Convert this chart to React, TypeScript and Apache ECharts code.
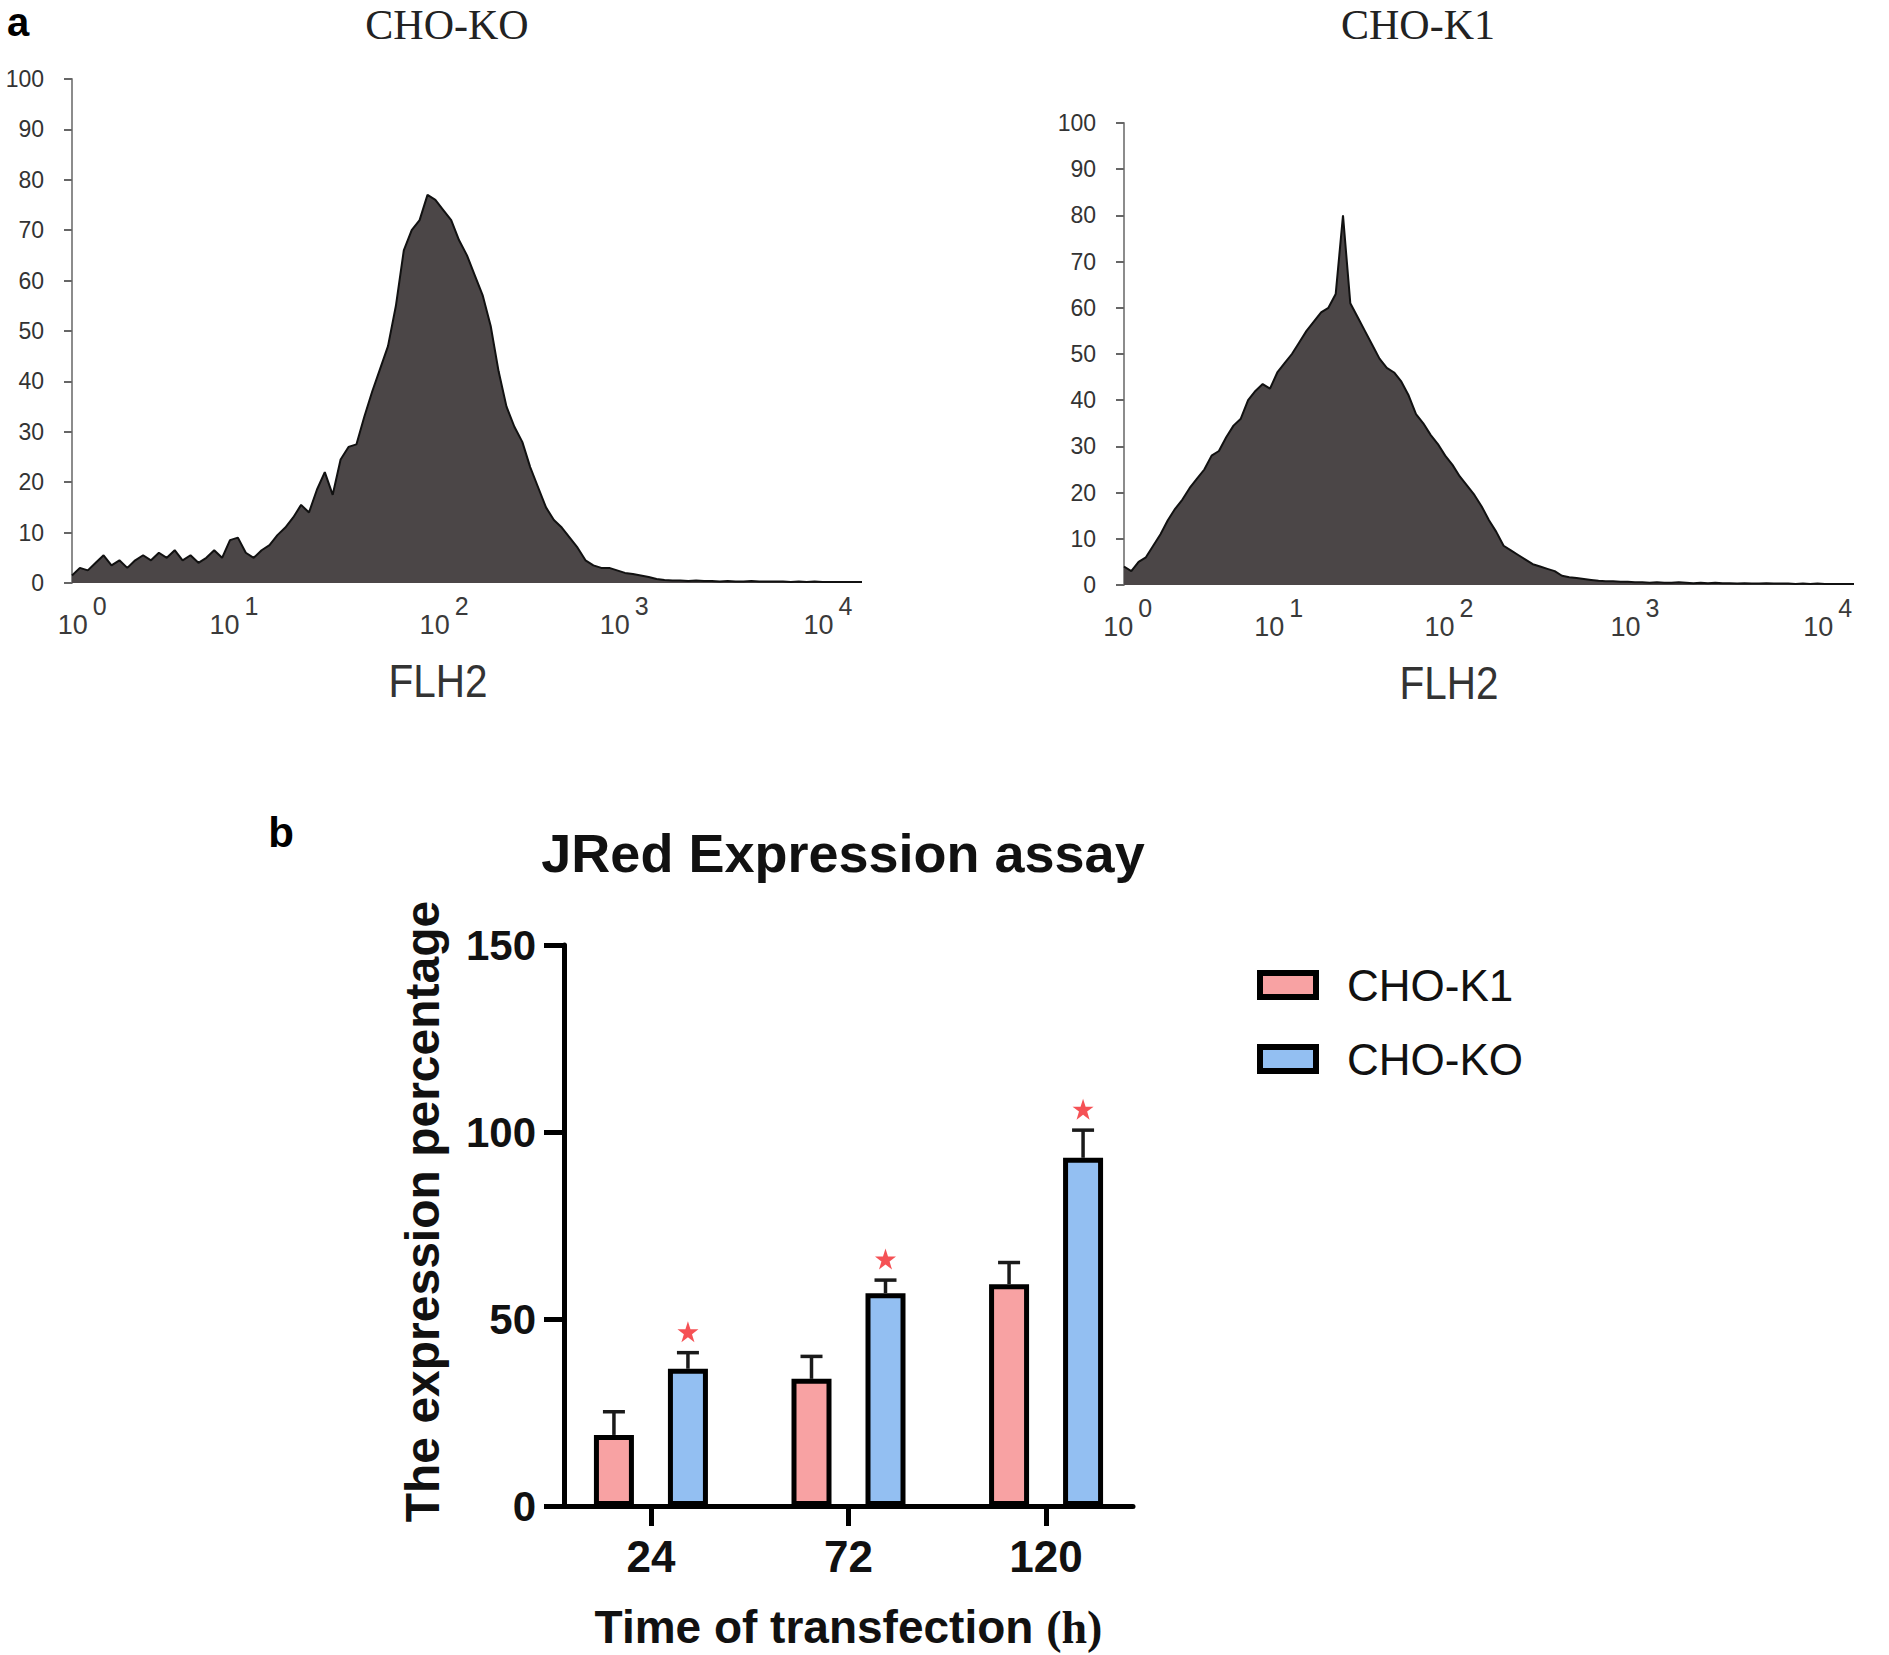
import React, { useEffect, useRef } from "react";
import * as echarts from "echarts";

// ---------- Panel a : flow-cytometry histograms (channel 0..1000, step 10) ----------
const BIN_STEP = 10;
const koCounts = [
  1.5, 3, 2.5, 4, 5.5, 3.5, 4.5, 3, 4.5, 5.5,
  4.5, 6, 5, 6.5, 4.5, 5.5, 4, 5, 6.5, 5,
  8.5, 9, 6, 5, 6.5, 7.5, 9.5, 11, 13, 15.5,
  14, 18.5, 22, 17.5, 24.5, 27, 27.5, 33, 38, 42.5,
  47, 55, 66, 70, 72, 77, 76, 74, 72, 68,
  65, 61, 57, 51, 42, 35, 31, 28, 23, 19,
  15, 12.5, 11, 9, 7, 4.5, 3.5, 3, 3, 2.5,
  2, 1.8, 1.5, 1.2, 0.8, 0.6, 0.5, 0.5, 0.4, 0.5,
  0.4, 0.4, 0.3, 0.4, 0.3, 0.3, 0.4, 0.3, 0.3, 0.3,
  0.3, 0.2, 0.3, 0.2, 0.3, 0.2, 0.2, 0.2, 0.2, 0.2, 0.2,
];
const k1Counts = [
  4, 3, 5, 6, 8.5, 11, 14, 16.5, 18.5, 21,
  23, 25, 28, 29, 32, 34.5, 36, 40, 42, 43.5,
  42.5, 46, 48, 50, 52.5, 55, 57, 59, 60, 63,
  80, 61, 58, 55, 52, 49, 47, 46, 44, 41,
  37, 35, 32.5, 30.5, 28, 26, 23.5, 21.5, 19.5, 17,
  14, 11.5, 8.5, 7.5, 6.5, 5.5, 4.5, 4, 3.5, 3,
  2, 1.7, 1.5, 1.3, 1.1, 0.9, 0.8, 0.8, 0.7, 0.7,
  0.6, 0.6, 0.5, 0.6, 0.5, 0.5, 0.6, 0.5, 0.4, 0.5,
  0.4, 0.5, 0.4, 0.4, 0.3, 0.4, 0.3, 0.3, 0.4, 0.3,
  0.3, 0.3, 0.2, 0.3, 0.2, 0.3, 0.2, 0.2, 0.2, 0.2, 0.2,
];
const decadeExponents = ["0", "1", "2", "3", "4"];
const koDecadePos = [13, 205, 471, 699, 957];
const k1DecadePos = [5, 212, 445, 700, 964];

// ---------- Panel b : JRed expression ----------
const timePoints = ["24", "72", "120"];
const timeIndex = [0, 1, 2];
const k1Mean = [19, 34, 59.3];
const k1Err = [6.2, 6, 5.8];
const koMean = [36.7, 56.9, 93.1];
const koErr = [4.3, 3.5, 7.4];

const BAR_OFFSET = 37;

const SANS = "'Liberation Sans', Arial, sans-serif";
const SERIF = "'Liberation Serif', 'Times New Roman', serif";

function histXAxis(gridIndex: number, positions: number[]) {
  return {
    type: "value",
    gridIndex,
    min: 0,
    max: 1000,
    axisLine: { show: false },
    axisTick: { show: false },
    splitLine: { show: false },
    axisLabel: {
      customValues: positions,
      margin: 10,
      formatter: (v: number) => {
        const i = positions.indexOf(v);
        return `{b|10}{s|${decadeExponents[i] ?? ""}}`;
      },
      rich: {
        b: { fontSize: 27, color: "#3a3a3a", fontFamily: SANS, verticalAlign: "bottom" },
        s: { fontSize: 25, color: "#3a3a3a", fontFamily: SANS, verticalAlign: "bottom", padding: [0, 0, 20, 5] },
      },
    },
  };
}

function histYAxis(gridIndex: number) {
  return {
    type: "value",
    gridIndex,
    min: 0,
    max: 100,
    interval: 10,
    axisLine: { show: true, lineStyle: { color: "#8c8c8c", width: 2 } },
    axisTick: { show: true, length: 8, lineStyle: { color: "#666", width: 2 } },
    splitLine: { show: false },
    axisLabel: { fontSize: 23, color: "#333", fontFamily: SANS, margin: 28 },
  };
}

function histSeries(idx: number, counts: number[]) {
  return {
    type: "line",
    xAxisIndex: idx,
    yAxisIndex: idx,
    data: counts.map((v, i) => [i * BIN_STEP, v]),
    symbol: "none",
    lineStyle: { color: "#111", width: 2 },
    areaStyle: { color: "#4b4647", opacity: 1 },
    silent: true,
  };
}

function errorSeries(name: string, mean: number[], err: number[], side: number) {
  return {
    type: "custom",
    name,
    xAxisIndex: 2,
    yAxisIndex: 2,
    z: 5,
    data: mean.map((m, i) => [timeIndex[i], m, err[i], side]),
    renderItem: (_p: any, api: any) => {
      const idx = api.value(0);
      const m = api.value(1);
      const e = api.value(2);
      const base = api.coord([idx, m]);
      const cap = api.coord([idx, m + e]);
      const x = base[0] + api.value(3) * BAR_OFFSET;
      const st = { stroke: "#1a1a1a", lineWidth: 3.5 };
      return {
        type: "group",
        children: [
          { type: "line", shape: { x1: x, y1: base[1], x2: x, y2: cap[1] }, style: st },
          { type: "line", shape: { x1: x - 11, y1: cap[1], x2: x + 11, y2: cap[1] }, style: st },
        ],
      };
    },
  };
}

const STAR =
  "path://M50,0 L61.8,35.3 L99,35.3 L69,57.3 L80.4,92.7 L50,70.7 L19.6,92.7 L31,57.3 L1,35.3 L38.2,35.3 Z";

export default function App() {
  const ref = useRef<HTMLDivElement>(null);
  useEffect(() => {
    document.body.style.margin = "0";
    if (!ref.current) return;
    const chart = echarts.init(ref.current, undefined, { renderer: "svg" });
    const option: any = {
      animation: false,
      backgroundColor: "#ffffff",
      grid: [
        { left: 72, top: 79, width: 790, height: 504 },
        { left: 1124, top: 123, width: 730, height: 462 },
        { left: 564, top: 945, width: 569, height: 561 },
      ],
      xAxis: [
        histXAxis(0, koDecadePos),
        histXAxis(1, k1DecadePos),
        {
          type: "value",
          gridIndex: 2,
          min: -0.44,
          max: 2.44,
          splitLine: { show: false },
          axisLine: { onZero: false, lineStyle: { color: "#000", width: 5 } },
          axisTick: { show: true, customValues: timeIndex, length: 20, lineStyle: { color: "#000", width: 5 } },
          axisLabel: {
            customValues: timeIndex,
            formatter: (v: number) => timePoints[timeIndex.indexOf(v)] ?? "",
            fontSize: 44,
            fontWeight: "bold",
            color: "#111",
            fontFamily: SANS,
            margin: 28,
          },
          name: "{a|Time of transfection }{h|(h)}",
          nameLocation: "middle",
          nameGap: 98,
          nameTextStyle: {
            rich: {
              a: { fontSize: 46, fontWeight: "bold", color: "#111", fontFamily: SANS },
              h: { fontSize: 46, fontWeight: "bold", color: "#111", fontFamily: SERIF },
            },
          },
        },
      ],
      yAxis: [
        histYAxis(0),
        histYAxis(1),
        {
          type: "value",
          gridIndex: 2,
          min: 0,
          max: 150,
          interval: 50,
          axisLine: { show: true, onZero: false, lineStyle: { color: "#000", width: 5 } },
          axisTick: { show: true, length: 20, lineStyle: { color: "#000", width: 5 } },
          splitLine: { show: false },
          axisLabel: { fontSize: 42, fontWeight: "bold", color: "#111", fontFamily: SANS, margin: 28 },
          name: "The expression percentage",
          nameLocation: "middle",
          nameGap: 118,
          nameTextStyle: { fontSize: 48, fontWeight: "bold", color: "#111", fontFamily: SANS, padding: [0, 0, 0, 28] },
        },
      ],
      legend: {
        data: ["CHO-K1", "CHO-KO"],
        orient: "vertical",
        left: 1252,
        top: 958,
        itemWidth: 56,
        itemHeight: 24,
        itemGap: 30,
        icon: "rect",
        selectedMode: false,
        itemStyle: { borderColor: "#000", borderWidth: 6 },
        textStyle: { fontSize: 44, color: "#111", fontFamily: SANS, padding: [0, 0, 0, 26] },
      },
      series: [
        histSeries(0, koCounts),
        histSeries(1, k1Counts),
        {
          type: "bar",
          name: "CHO-K1",
          xAxisIndex: 2,
          yAxisIndex: 2,
          data: k1Mean.map((m, i) => [timeIndex[i], m]),
          barWidth: 40,
          barGap: "85%",
          itemStyle: { color: "#F8A2A3", borderColor: "#000", borderWidth: 5 },
        },
        {
          type: "bar",
          name: "CHO-KO",
          xAxisIndex: 2,
          yAxisIndex: 2,
          data: koMean.map((m, i) => [timeIndex[i], m]),
          barWidth: 40,
          barGap: "85%",
          itemStyle: { color: "#93BFF2", borderColor: "#000", borderWidth: 5 },
        },
        errorSeries("err-k1", k1Mean, k1Err, -1),
        errorSeries("err-ko", koMean, koErr, 1),
        {
          type: "scatter",
          name: "significance",
          xAxisIndex: 2,
          yAxisIndex: 2,
          data: koMean.map((m, i) => [timeIndex[i], m + koErr[i]]),
          symbol: STAR,
          symbolSize: 21,
          symbolOffset: [BAR_OFFSET, -21],
          itemStyle: { color: "#F2262A" },
          z: 6,
        },
      ],
      graphic: [
        { type: "text", x: 18, y: 22, silent: true, style: { text: "a", font: `bold 40px ${SANS}`, fill: "#000", align: "center", verticalAlign: "middle" } },
        { type: "text", x: 447, y: 25, silent: true, style: { text: "CHO-KO", font: `42px ${SERIF}`, fill: "#222", align: "center", verticalAlign: "middle" } },
        { type: "text", x: 1418, y: 25, silent: true, style: { text: "CHO-K1", font: `42px ${SERIF}`, fill: "#222", align: "center", verticalAlign: "middle" } },
        { type: "text", x: 438, y: 681, scaleX: 0.88, silent: true, style: { text: "FLH2", font: `46px ${SANS}`, fill: "#333", align: "center", verticalAlign: "middle" } },
        { type: "text", x: 1449, y: 683, scaleX: 0.88, silent: true, style: { text: "FLH2", font: `46px ${SANS}`, fill: "#333", align: "center", verticalAlign: "middle" } },
        { type: "text", x: 281, y: 832, silent: true, style: { text: "b", font: `bold 42px ${SANS}`, fill: "#000", align: "center", verticalAlign: "middle" } },
        { type: "text", x: 843, y: 853, silent: true, style: { text: "JRed Expression assay", font: `bold 54px ${SANS}`, fill: "#111", align: "center", verticalAlign: "middle" } },
      ],
    };
    chart.setOption(option);
    return () => chart.dispose();
  }, []);
  return (
    <div
      ref={ref}
      style={{ position: "absolute", left: 0, top: 0, width: 1889, height: 1655, background: "#fff" }}
    />
  );
}
